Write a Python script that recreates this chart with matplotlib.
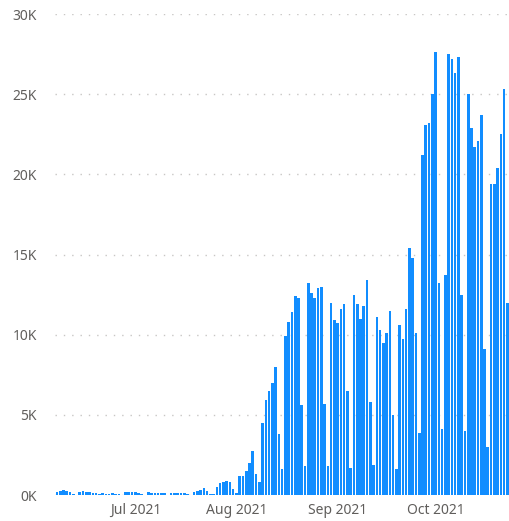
import datetime as dt
import matplotlib
matplotlib.use("Agg")
import matplotlib.pyplot as plt
import matplotlib.dates as mdates
from matplotlib.ticker import FuncFormatter

plt.rcParams['font.family'] = ['Noto Sans', 'DejaVu Sans']

# daily values, 7 Jun 2021 -> 23 Oct 2021 (thousands)
start_date = dt.date(2021, 6, 7)
values_k = [
    0.2, 0.25, 0.3, 0.25, 0.2, 0.05, 0.02,        # Jun 7-13
    0.2, 0.25, 0.2, 0.18, 0.15, 0.1, 0.08,        # Jun 14-20
    0.1, 0.08, 0.08, 0.1, 0.08, 0.04, 0.02,       # Jun 21-27
    0.17, 0.19, 0.19, 0.19, 0.15, 0.08, 0.02,     # Jun 28 - Jul 4
    0.19, 0.15, 0.12, 0.15, 0.15, 0.1, 0.02,      # Jul 5-11
    0.15, 0.15, 0.12, 0.15, 0.15, 0.06, 0.03,     # Jul 12-18
    0.19, 0.25, 0.31, 0.44, 0.25, 0.06, 0.06,     # Jul 19-25
    0.5, 0.73, 0.8, 0.85, 0.8, 0.37, 0.12,        # Jul 26 - Aug 1
    1.2, 1.17, 1.5, 2.0, 2.77, 1.3, 0.8,          # Aug 2-8
    4.5, 5.9, 6.5, 7.0, 8.0, 3.8, 1.6,            # Aug 9-15
    9.9, 10.8, 11.4, 12.4, 12.3, 5.6, 1.8,        # Aug 16-22
    13.2, 12.6, 12.3, 12.9, 13.0, 5.7, 1.8,       # Aug 23-29
    12.0, 10.9, 10.7, 11.6, 11.9, 6.5, 1.7,       # Aug 30 - Sep 5
    12.5, 11.9, 11.0, 11.8, 13.4, 5.8, 1.9,       # Sep 6-12
    11.1, 10.3, 9.5, 10.1, 11.5, 5.0, 1.6,        # Sep 13-19
    10.6, 9.7, 11.6, 15.4, 14.8, 10.1, 3.85,      # Sep 20-26
    21.2, 23.1, 23.2, 25.0, 27.6, 13.2, 4.1,      # Sep 27 - Oct 3
    13.75, 27.5, 27.2, 26.3, 27.3, 12.5, 4.0,     # Oct 4-10
    25.0, 22.9, 21.7, 22.1, 23.7, 9.1, 3.0,       # Oct 11-17
    19.4, 19.4, 20.4, 22.5, 25.35, 12.0,          # Oct 18-23
]
dates = [start_date + dt.timedelta(days=i) for i in range(len(values_k))]
values = [v * 1000 for v in values_k]

month_ticks = [dt.date(2021, 7, 1), dt.date(2021, 8, 1),
               dt.date(2021, 9, 1), dt.date(2021, 10, 1)]

fig = plt.figure(figsize=(5.09, 5.21), dpi=100)
ax = fig.add_axes([0.108, 0.0499, 0.892, 0.9232])

ax.bar(dates, values, width=0.8, color="#118DFF", zorder=3)

ax.set_ylim(0, 30000)
ax.set_yticks(range(0, 30001, 5000))
ax.yaxis.set_major_formatter(FuncFormatter(lambda v, p: f"{int(v / 1000)}K"))
ax.set_xlim(mdates.date2num(start_date) - 0.6,
            mdates.date2num(dates[-1]) + 0.5)
ax.set_xticks(month_ticks)
ax.xaxis.set_major_formatter(mdates.DateFormatter("%b %Y"))

ax.grid(axis="y", color="#C8C6C4", linestyle=(0, (1, 5)), linewidth=1, zorder=0)
for s in ax.spines.values():
    s.set_visible(False)
ax.tick_params(axis="both", length=0, labelsize=10, labelcolor="#605E5C")
ax.tick_params(axis="y", pad=13)
ax.tick_params(axis="x", pad=6)

fig.savefig("out.png", dpi=100)
